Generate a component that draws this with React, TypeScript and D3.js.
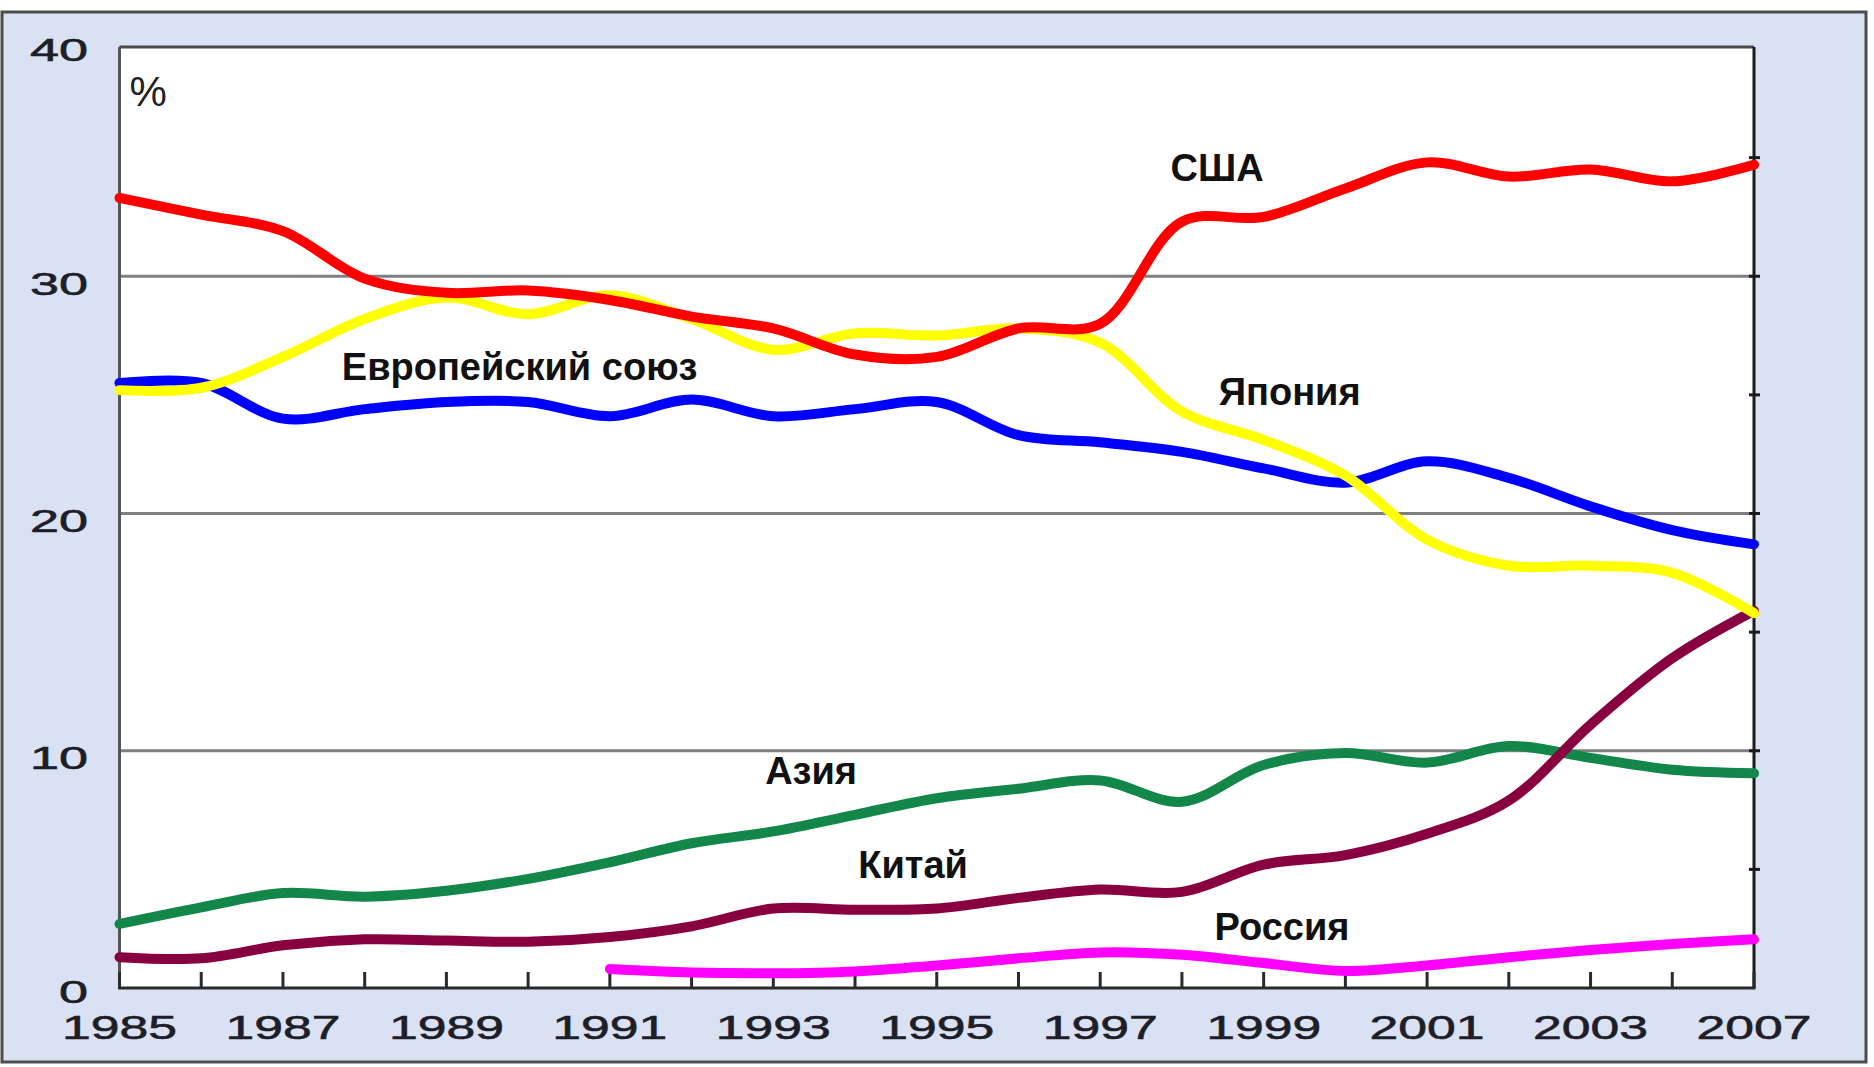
import React from 'react';
import * as d3 from 'd3';

// Categories (the last slot is labelled 2007 in the original)
const years = ['1985','1986','1987','1988','1989','1990','1991','1992','1993','1994','1995','1996','1997','1998','1999','2000','2001','2002','2003','2004','2007'];
const xTickLabels = ['1985','1987','1989','1991','1993','1995','1997','1999','2001','2003','2007'];
const yTickLabels = [0, 10, 20, 30, 40];
const gridValues = [10, 20, 30];
const rightTicks = [5, 10, 15, 20, 25, 30, 35];

const usa = [33.3, 32.6, 31.9, 29.9, 29.3, 29.4, 29.0, 28.3, 27.8, 26.7, 26.6, 27.8, 28.0, 32.3, 32.5, 33.7, 34.8, 34.2, 34.5, 34.0, 34.7];
const eu = [25.5, 25.5, 24.0, 24.4, 24.7, 24.7, 24.1, 24.8, 24.1, 24.4, 24.7, 23.3, 23.0, 22.6, 21.9, 21.3, 22.2, 21.5, 20.3, 19.3, 18.7];
const japan = [25.2, 25.3, 26.6, 28.2, 29.1, 28.4, 29.2, 28.2, 26.9, 27.6, 27.5, 27.8, 27.2, 24.3, 23.1, 21.6, 18.9, 17.8, 17.8, 17.5, 15.8];
const asia = [2.7, 3.4, 4.0, 3.85, 4.1, 4.6, 5.3, 6.1, 6.6, 7.3, 8.0, 8.4, 8.75, 7.85, 9.4, 9.9, 9.5, 10.2, 9.7, 9.2, 9.05];
const china = [1.3, 1.25, 1.8, 2.05, 2.0, 1.95, 2.15, 2.6, 3.35, 3.3, 3.35, 3.8, 4.15, 4.05, 5.2, 5.6, 6.5, 7.9, 11.1, 13.9, 15.9];
const russia = [null, null, null, null, null, null, 0.8, 0.65, 0.62, 0.7, 0.95, 1.25, 1.5, 1.4, 1.05, 0.72, 0.95, 1.3, 1.6, 1.85, 2.05];

const seriesNames = ['Азия', 'Китай', 'Россия', 'Европейский союз', 'Япония', 'США'];
const seriesValues = [asia, china, russia, eu, japan, usa];
const seriesColors = ['#13864a', '#880040', '#ff00ff', '#0000ff', '#ffff00', '#ff0000'];

// annotation labels: text, category position (fractional index), value, anchor
const labelTexts = ['США', 'Европейский союз', 'Япония', 'Азия', 'Китай', 'Россия'];
const labelIdx = [13.43, 2.72, 13.45, 7.9, 9.04, 13.4];
const labelVal = [34.56, 26.17, 25.12, 9.15, 5.18, 2.57];
const labelAnchor = ['middle', 'start', 'start', 'start', 'start', 'start'];

const W = 1874;
const H = 1067;
const left = 119.5;
const right = 1754;
const bottom = 988;
const topFrame = 47;

export default function App() {
  const x = d3.scalePoint<string>().domain(years).range([left, right]);
  const xi = d3.scaleLinear().domain([0, years.length - 1]).range([left, right]);
  const y = d3.scaleLinear().domain([0, 40]).range([bottom, 39]);

  const line = d3
    .line<number | null>()
    .defined((d) => d !== null)
    .x((_, i) => x(years[i]) as number)
    .y((d) => y(d as number))
    .curve(d3.curveCatmullRom.alpha(0.5));

  const tickFont = 'Liberation Sans, Arial, sans-serif';

  return (
    <svg width={W} height={H} style={{ position: 'absolute', left: 0, top: 0 }} xmlns="http://www.w3.org/2000/svg">
      <rect x={0} y={0} width={W} height={H} fill="#ffffff" />
      <rect x={2} y={12} width={1864} height={1050} fill="#d9e1f2" stroke="#4d4d4d" strokeWidth={3} />
      <rect x={left} y={topFrame} width={right - left} height={bottom - topFrame} fill="#ffffff" />

      {gridValues.map((v) => (
        <line key={'g' + v} x1={left} x2={right} y1={y(v)} y2={y(v)} stroke="#7f7f7f" strokeWidth={3} />
      ))}

      {/* frame */}
      <line x1={left} x2={right} y1={topFrame} y2={topFrame} stroke="#4a4a4a" strokeWidth={3} />
      <line x1={left} x2={left} y1={topFrame} y2={bottom} stroke="#555555" strokeWidth={3} />
      <line x1={right} x2={right} y1={topFrame} y2={bottom} stroke="#1a1a1a" strokeWidth={3} />
      <line x1={left - 1.5} x2={right + 1.5} y1={bottom} y2={bottom} stroke="#2a2a2a" strokeWidth={3} />

      {rightTicks.map((v) => (
        <line key={'rt' + v} x1={right - 5} x2={right + 6} y1={y(v)} y2={y(v)} stroke="#1a1a1a" strokeWidth={3} />
      ))}

      {years.map((yr) => (
        <line key={'xt' + yr} x1={x(yr)} x2={x(yr)} y1={bottom} y2={bottom - 16} stroke="#2a2a2a" strokeWidth={3} />
      ))}

      {/* series */}
      {seriesValues.map((vals, k) => (
        <path
          key={seriesNames[k]}
          d={line(vals) || ''}
          fill="none"
          stroke={seriesColors[k]}
          strokeWidth={10}
          strokeLinecap="round"
          strokeLinejoin="round"
        />
      ))}

      {/* x tick labels */}
      {xTickLabels.map((lab, i) => {
        const cat = i === xTickLabels.length - 1 ? years[years.length - 1] : lab;
        return (
          <text
            key={'xl' + lab}
            x={x(cat)}
            y={1027}
            textAnchor="middle"
            dominantBaseline="central"
            fontFamily={tickFont}
            fontSize={34}
            fill="#1e1e28"
            stroke="#1e1e28"
            strokeWidth={0.6}
            textLength={115}
            lengthAdjust="spacingAndGlyphs"
          >
            {lab}
          </text>
        );
      })}

      {/* y tick labels */}
      {yTickLabels.map((v) => {
        const s = String(v);
        return (
          <text
            key={'yl' + v}
            x={88}
            y={v === 40 ? 50 : v === 0 ? 992 : y(v) + 8}
            textAnchor="end"
            dominantBaseline="central"
            fontFamily={tickFont}
            fontSize={31}
            fill="#1e1e28"
            stroke="#1e1e28"
            strokeWidth={0.6}
            textLength={s.length * 29}
            lengthAdjust="spacingAndGlyphs"
          >
            {s}
          </text>
        );
      })}

      <text x={xi(0.35)} y={y(37.77)} textAnchor="middle" dominantBaseline="central" fontFamily={tickFont} fontSize={42} fill="#222">
        %
      </text>

      {labelTexts.map((t, i) => (
        <text
          key={'lab' + t}
          x={xi(labelIdx[i])}
          y={y(labelVal[i])}
          textAnchor={labelAnchor[i] as any}
          dominantBaseline="central"
          fontFamily={tickFont}
          fontWeight="bold"
          fontSize={38}
          fill="#111"
        >
          {t}
        </text>
      ))}
    </svg>
  );
}
